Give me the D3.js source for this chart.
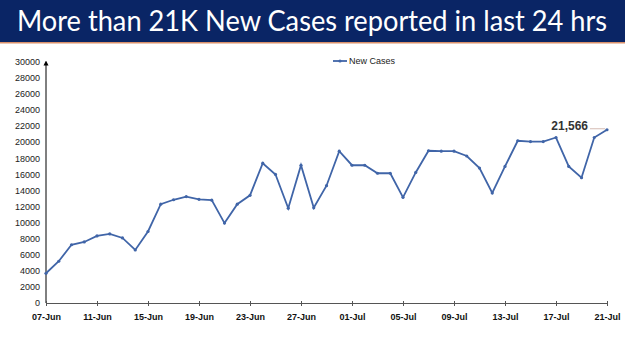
<!DOCTYPE html>
<html>
<head>
<meta charset="utf-8">
<script src="https://cdn.jsdelivr.net/npm/d3@7"></script>
<style>
  body { margin: 0; background: #fff; }
  svg { display: block; }
</style>
</head>
<body>
<div id="chart"></div>
<script>
// daily new cases, 07-Jun to 21-Jul
const dates = [
  "07-Jun","08-Jun","09-Jun","10-Jun","11-Jun","12-Jun","13-Jun","14-Jun","15-Jun","16-Jun",
  "17-Jun","18-Jun","19-Jun","20-Jun","21-Jun","22-Jun","23-Jun","24-Jun","25-Jun","26-Jun",
  "27-Jun","28-Jun","29-Jun","30-Jun","01-Jul","02-Jul","03-Jul","04-Jul","05-Jul","06-Jul",
  "07-Jul","08-Jul","09-Jul","10-Jul","11-Jul","12-Jul","13-Jul","14-Jul","15-Jul","16-Jul",
  "17-Jul","18-Jul","19-Jul","20-Jul","21-Jul"
];
const newCases = [
  3700, 5200, 7250, 7600, 8350, 8600, 8100, 6600, 8900, 12300,
  12850, 13250, 12900, 12800, 9950, 12300, 13400, 17400, 16000, 11800,
  17150, 11850, 14600, 18900, 17150, 17150, 16150, 16150, 13150, 16250,
  18950, 18900, 18900, 18300, 16800, 13700, 17000, 20200, 20100, 20100,
  20600, 17000, 15600, 20600, 21566
];
const yTicks = d3.range(0, 30001, 2000);
const xTickLabels = ["07-Jun","11-Jun","15-Jun","19-Jun","23-Jun","27-Jun","01-Jul","05-Jul","09-Jul","13-Jul","17-Jul","21-Jul"];
const titleText = "More than 21K New Cases reported in last 24 hrs";
const seriesName = "New Cases";

const width = 625;
const height = 351;
const margin = { top: 62, right: 18, bottom: 48, left: 46 };
const lineColor = "#4065a8";

const svg = d3.select("#chart")
  .append("svg")
  .attr("width", width)
  .attr("height", height);

// title banner
svg.append("rect")
  .attr("x", 0).attr("y", 0)
  .attr("width", width).attr("height", 42)
  .attr("fill", "#0a2565");
svg.append("rect")
  .attr("x", 0).attr("y", 42)
  .attr("width", width).attr("height", 1.5)
  .attr("fill", "#d9906a");
svg.append("text")
  .attr("x", 17)
  .attr("y", 31)
  .attr("fill", "#fff")
  .attr("font-family", "Lato, 'Open Sans', sans-serif")
  .attr("font-size", "28px")
  .attr("textLength", 590)
  .attr("lengthAdjust", "spacingAndGlyphs")
  .text(titleText);

const xScale = d3.scalePoint()
  .domain(dates)
  .range([margin.left, width - margin.right]);

const yScale = d3.scaleLinear()
  .domain([0, 30000])
  .range([height - margin.bottom, margin.top]);

// y tick labels (no tick marks)
svg.append("g")
  .selectAll("text")
  .data(yTicks)
  .join("text")
  .attr("x", margin.left - 6)
  .attr("y", d => yScale(d))
  .attr("dy", "0.35em")
  .attr("text-anchor", "end")
  .attr("font-family", "'Liberation Sans', Arial, sans-serif")
  .attr("font-size", "9px")
  .attr("fill", "#222")
  .text(d => d);

// y axis line with arrow
svg.append("defs").append("marker")
  .attr("id", "arrow")
  .attr("viewBox", "0 0 10 10")
  .attr("refX", 5).attr("refY", 5)
  .attr("markerWidth", 5).attr("markerHeight", 6)
  .attr("orient", "auto")
  .append("path")
  .attr("d", "M0,0 L10,5 L0,10 z")
  .attr("fill", "#000");

svg.append("line")
  .attr("x1", margin.left).attr("x2", margin.left)
  .attr("y1", yScale(0)).attr("y2", yScale(30000) + 1)
  .attr("stroke", "#000")
  .attr("stroke-width", 1)
  .attr("marker-end", "url(#arrow)");

// x axis
const xAxis = d3.axisBottom(xScale)
  .tickValues(xTickLabels)
  .tickSize(3)
  .tickSizeOuter(0);
const xg = svg.append("g")
  .attr("transform", `translate(0, ${yScale(0)})`)
  .call(xAxis);
xg.select(".domain").attr("stroke", "#555");
xg.selectAll(".tick line").attr("stroke", "#555").attr("y1", -2);
xg.selectAll(".tick text")
  .attr("dy", "1.2em")
  .attr("font-family", "'Liberation Sans', Arial, sans-serif")
  .attr("font-size", "9px")
  .attr("font-weight", "bold")
  .attr("fill", "#111");

// series line
const line = d3.line()
  .x((d, i) => xScale(dates[i]))
  .y(d => yScale(d));

svg.append("path")
  .datum(newCases)
  .attr("fill", "none")
  .attr("stroke", lineColor)
  .attr("stroke-width", 1.8)
  .attr("d", line);

svg.append("g")
  .selectAll("circle")
  .data(newCases)
  .join("circle")
  .attr("cx", (d, i) => xScale(dates[i]))
  .attr("cy", d => yScale(d))
  .attr("r", 1.6)
  .attr("fill", lineColor);

// last value label with leader line
const lastIdx = newCases.length - 1;
const lx = xScale(dates[lastIdx]);
const ly = yScale(newCases[lastIdx]);
svg.append("line")
  .attr("x1", lx - 17).attr("x2", lx - 2)
  .attr("y1", ly - 1).attr("y2", ly - 1)
  .attr("stroke", "#c9a9a0")
  .attr("stroke-width", 0.8);
svg.append("text")
  .attr("x", lx - 19)
  .attr("y", ly)
  .attr("text-anchor", "end")
  .attr("font-family", "'Liberation Sans', Arial, sans-serif")
  .attr("font-size", "12px")
  .attr("font-weight", "bold")
  .attr("fill", "#333")
  .text(d3.format(",")(newCases[lastIdx]));

// legend
const legend = svg.append("g")
  .attr("transform", "translate(333, 61)");
legend.append("line")
  .attr("x1", 0).attr("x2", 14)
  .attr("y1", 0).attr("y2", 0)
  .attr("stroke", lineColor)
  .attr("stroke-width", 1.8);
legend.append("circle")
  .attr("cx", 7).attr("cy", 0).attr("r", 1.6)
  .attr("fill", lineColor);
legend.append("text")
  .attr("x", 16)
  .attr("y", 0)
  .attr("dy", "0.35em")
  .attr("font-family", "'Liberation Sans', Arial, sans-serif")
  .attr("font-size", "9px")
  .attr("fill", "#222")
  .text(seriesName);
</script>
</body>
</html>
